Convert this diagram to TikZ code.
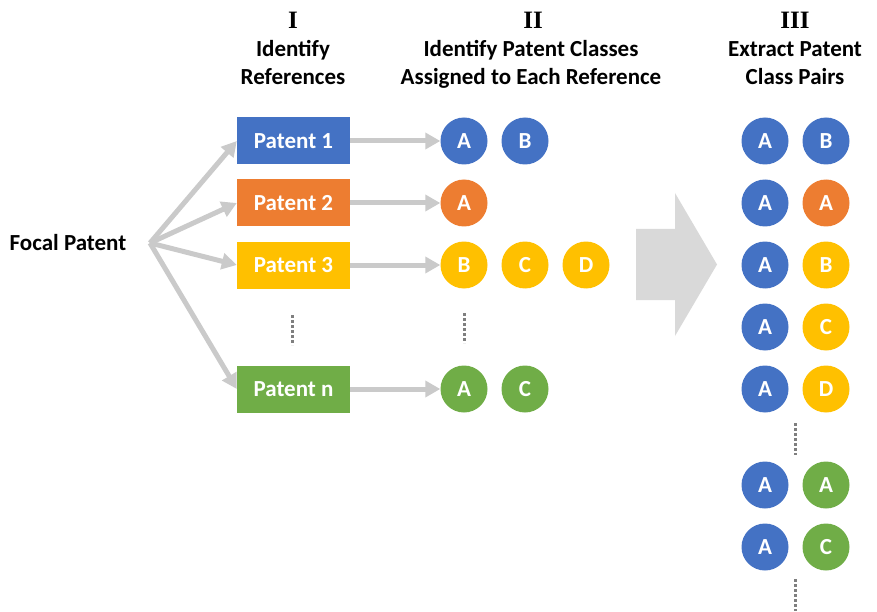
\documentclass[tikz,border=0pt]{standalone}
\usepackage{fontspec}
\setmainfont{Carlito}
\newfontfamily\romanfont{Liberation Serif}
\usetikzlibrary{arrows.meta}
\definecolor{patblue}{HTML}{4472C4}
\definecolor{patorange}{HTML}{ED7D31}
\definecolor{patyellow}{HTML}{FFC000}
\definecolor{patgreen}{HTML}{70AD47}
\definecolor{linkgray}{HTML}{CACACA}
\definecolor{biggray}{HTML}{D9D9D9}
\definecolor{dotgray}{HTML}{7F7F7F}
\begin{document}
\begin{tikzpicture}[x=1pt,y=-1pt,
  txt/.style={font=\fontsize{23}{28}\selectfont\bfseries, align=center, inner sep=0pt},
  numtxt/.style={font=\fontsize{25}{28}\selectfont\romanfont\bfseries, inner sep=0pt},
  patbox/.style={fill=#1, minimum width=113pt, minimum height=47pt, inner sep=0pt,
    text=white, font=\fontsize{23}{28}\selectfont\bfseries},
  cls/.style={circle, fill=#1, minimum size=47pt, inner sep=0pt,
    text=white, font=\fontsize{23}{28}\selectfont\bfseries},
  link/.style={draw=linkgray, line width=5pt, -{Triangle[length=15pt,width=16pt]}},
  dots/.style={draw=dotgray, line width=3pt, dash pattern=on 2.5pt off 2.5pt}]

\useasboundingbox (0,0) rectangle (877,612);

% column headings
\node[numtxt] (num1) at (293,20) {I};
\node[numtxt] (num2) at (533,20) {II};
\node[numtxt] (num3) at (795,20) {III};
\node[txt] (head1) at (293,63) {Identify\\References};
\node[txt] (head2) at (531,64) {Identify Patent Classes\\Assigned to Each Reference};
\node[txt] (head3) at (795,63) {Extract Patent\\Class Pairs};

% focal patent and its references
\node[txt] (focal) at (68,243) {Focal Patent};
\coordinate (fork) at (150,243);

\node[patbox=patblue] (pat1) at (293.5,141) {Patent 1};
\node[patbox=patorange] (pat2) at (293.5,203) {Patent 2};
\node[patbox=patyellow] (pat3) at (293.5,265) {Patent 3};
\node[patbox=patgreen] (patn) at (293.5,389) {Patent n};

\draw[link] (fork) -- (pat1.west);
\draw[link] (fork) -- (pat2.west);
\draw[link] (fork) -- (pat3.west);
\draw[link] (fork) -- (patn.west);

% classes of each reference
\node[cls=patblue] (c1a) at (464,141) {A};
\node[cls=patblue] (c1b) at (525,141) {B};
\node[cls=patorange] (c2a) at (464,203) {A};
\node[cls=patyellow] (c3b) at (464,265) {B};
\node[cls=patyellow] (c3c) at (525,265) {C};
\node[cls=patyellow] (c3d) at (586,265) {D};
\node[cls=patgreen] (cna) at (464,389) {A};
\node[cls=patgreen] (cnc) at (525,389) {C};

\draw[link] (pat1.east) -- (c1a.west);
\draw[link] (pat2.east) -- (c2a.west);
\draw[link] (pat3.east) -- (c3b.west);
\draw[link] (patn.east) -- (cna.west);

\draw[dots] (292,315) -- (292,345);
\draw[dots] (464,313) -- (464,343);

% big arrow
\fill[biggray] (636,229) -- (675,229) -- (675,193) -- (717,264.5) -- (675,336)
  -- (675,300) -- (636,300) -- cycle;

% class pairs
\node[cls=patblue] (p1l) at (765,141) {A};
\node[cls=patblue] (p1r) at (826,141) {B};
\node[cls=patblue] (p2l) at (765,203) {A};
\node[cls=patorange] (p2r) at (826,203) {A};
\node[cls=patblue] (p3l) at (765,265) {A};
\node[cls=patyellow] (p3r) at (826,265) {B};
\node[cls=patblue] (p4l) at (765,327) {A};
\node[cls=patyellow] (p4r) at (826,327) {C};
\node[cls=patblue] (p5l) at (765,389) {A};
\node[cls=patyellow] (p5r) at (826,389) {D};
\node[cls=patblue] (p6l) at (765,485) {A};
\node[cls=patgreen] (p6r) at (826,485) {A};
\node[cls=patblue] (p7l) at (765,547) {A};
\node[cls=patgreen] (p7r) at (826,547) {C};

\draw[dots] (795,423) -- (795,455);
\draw[dots] (795,579) -- (795,611);

\end{tikzpicture}
\end{document}
